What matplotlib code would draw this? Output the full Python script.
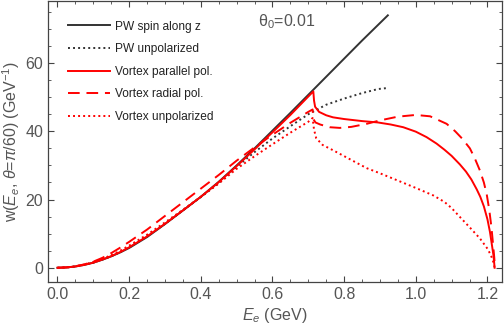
import matplotlib
matplotlib.use("Agg")
import matplotlib.pyplot as plt
from matplotlib.ticker import MultipleLocator

plt.rcParams['font.family'] = ['Liberation Sans', 'DejaVu Sans']
plt.rcParams['mathtext.fontset'] = 'custom'
plt.rcParams['mathtext.rm'] = 'Liberation Sans'
plt.rcParams['mathtext.it'] = 'Liberation Sans:italic'
plt.rcParams['mathtext.bf'] = 'Liberation Sans:bold'

# ---- data ----
pw_spin_E = [0.0, 0.025, 0.05, 0.075, 0.10, 0.125, 0.15, 0.175, 0.20, 0.25, 0.30, 0.35,
             0.40, 0.45, 0.50, 0.55, 0.60, 0.65, 0.70, 0.75, 0.80, 0.85, 0.922]
pw_spin_w = [0.0, 0.1, 0.38, 0.85, 1.5, 2.35, 3.35, 4.5, 5.8, 9.0, 12.8, 16.8,
             20.8, 25.2, 30.0, 35.0, 40.2, 45.4, 50.7, 56.0, 61.3, 66.6, 74.0]

pw_unpol_E = [0.0, 0.025, 0.05, 0.075, 0.10, 0.125, 0.15, 0.175, 0.20, 0.25, 0.30,
              0.35, 0.40, 0.45, 0.50, 0.55, 0.60, 0.65, 0.70, 0.75, 0.80, 0.85,
              0.895, 0.922]
pw_unpol_w = [0.0, 0.1, 0.38, 0.86, 1.5, 2.4, 3.4, 4.6, 6.0, 9.2, 12.9,
              16.8, 20.7, 24.8, 29.6, 33.9, 37.9, 41.5, 45.0, 47.8, 49.6, 51.2,
              52.4, 52.7]

vx_par_E = [0.0, 0.025, 0.05, 0.075, 0.10, 0.125, 0.15, 0.175, 0.20, 0.25, 0.30,
            0.35, 0.40, 0.45, 0.50, 0.55, 0.60, 0.65, 0.70, 0.714, 0.716, 0.719,
            0.73, 0.75, 0.769, 0.80, 0.85, 0.894, 0.93, 0.965, 1.00, 1.03, 1.058,
            1.08, 1.10, 1.123, 1.14, 1.155, 1.17, 1.18, 1.19, 1.20, 1.207, 1.212,
            1.217, 1.22]
vx_par_w = [0.0, 0.1, 0.38, 0.86, 1.5, 2.4, 3.4, 4.6, 6.0, 9.2, 12.9,
            16.8, 20.8, 25.1, 29.8, 34.7, 39.7, 44.8, 50.2, 51.7, 49.0, 47.2,
            45.7, 44.7, 44.1, 43.6, 43.0, 42.6, 42.0, 41.2, 39.9, 38.3, 36.4,
            34.6, 32.8, 30.3, 28.2, 25.9, 23.0, 20.8, 18.0, 14.2, 10.5, 7.0,
            3.5, 0.0]

vx_rad_E = [0.0, 0.025, 0.05, 0.075, 0.10, 0.125, 0.15, 0.175, 0.20, 0.25, 0.30,
            0.35, 0.40, 0.45, 0.50, 0.55, 0.60, 0.65, 0.70, 0.712, 0.714, 0.72,
            0.733, 0.76, 0.788, 0.82, 0.863, 0.90, 0.95, 1.00, 1.04, 1.086, 1.11,
            1.13, 1.151, 1.165, 1.179, 1.19, 1.198, 1.205, 1.211, 1.216, 1.219,
            1.221]
vx_rad_w = [0.0, 0.12, 0.45, 1.0, 1.8, 2.9, 4.3, 5.9, 7.6, 11.2, 15.2,
            19.2, 23.2, 27.2, 31.4, 35.3, 39.0, 42.5, 45.7, 46.4, 43.6, 42.6,
            42.0, 41.2, 41.0, 41.3, 42.2, 43.2, 44.3, 44.8, 44.4, 42.2, 40.0,
            37.8, 35.0, 32.0, 28.5, 25.0, 21.5, 17.0, 12.0, 6.5, 3.0,
            0.0]

vx_unpol_E = [0.0, 0.025, 0.05, 0.075, 0.10, 0.125, 0.15, 0.175, 0.20, 0.25, 0.30,
              0.35, 0.40, 0.45, 0.50, 0.55, 0.60, 0.65, 0.70, 0.712, 0.716, 0.722,
              0.74, 0.77, 0.82, 0.863, 0.90, 0.956, 1.00, 1.049, 1.08, 1.10, 1.123,
              1.15, 1.179, 1.20, 1.21, 1.217, 1.22]
vx_unpol_w = [0.0, 0.11, 0.42, 0.95, 1.65, 2.6, 3.7, 5.0, 6.5, 9.7, 13.3,
              17.0, 20.8, 24.7, 29.0, 32.7, 36.2, 39.6, 42.8, 43.9, 40.5, 38.0,
              36.0, 34.4, 31.6, 29.2, 27.7, 25.3, 23.4, 21.2, 19.3, 17.5, 14.9,
              11.9, 8.6, 5.6, 3.6, 1.5, 0.0]

labels = ["PW spin along z", "PW unpolarized", "Vortex parallel pol.",
          "Vortex radial pol.", "Vortex unpolarized"]
x_ticks = [0.0, 0.2, 0.4, 0.6, 0.8, 1.0, 1.2]
y_ticks = [0, 20, 40, 60]

# ---- figure ----
fig = plt.figure(figsize=(5.04, 3.31), dpi=100)
ax = fig.add_axes([48/504, 1 - 282/331, 454/504, 281/331])

gray_txt = '#555555'
dark = '#333333'
red = '#ff0000'

ax.plot(pw_spin_E, pw_spin_w, color=dark, lw=1.4, label=labels[0])
ax.plot(pw_unpol_E, pw_unpol_w, color=dark, lw=1.4, ls=(0, (1, 1.6)), label=labels[1])
ax.plot(vx_par_E, vx_par_w, color=red, lw=1.4, label=labels[2])
ax.plot(vx_rad_E, vx_rad_w, color=red, lw=1.4, ls=(0, (6, 3.5)), label=labels[3])
ax.plot(vx_unpol_E, vx_unpol_w, color=red, lw=1.4, ls=(0, (1, 1.6)), label=labels[4])

ax.set_xlim(-0.0265, 1.2406)
ax.set_ylim(-4.17, 78.2)
ax.set_xticks(x_ticks)
ax.set_xticklabels([f"{t:.1f}" for t in x_ticks])
ax.set_yticks(y_ticks)
ax.xaxis.set_minor_locator(MultipleLocator(0.05))
ax.yaxis.set_minor_locator(MultipleLocator(5))
ax.tick_params(which='both', direction='in', top=True, right=True,
               color='#444444', labelcolor=gray_txt, labelsize=11.5)
ax.tick_params(which='major', length=4.5, width=0.8)
ax.tick_params(which='minor', length=2.5, width=0.6)
for s in ax.spines.values():
    s.set_color('#444444')
    s.set_linewidth(0.9)

ax.set_xlabel(r'$E_e$ (GeV)', color=gray_txt, fontsize=11.5, labelpad=3)
ax.set_ylabel(r'w($E_e$, $\theta$=$\pi$/60) (GeV$^{-1}$)', color=gray_txt,
              fontsize=11.5, labelpad=2)

ax.text(0.462, 0.925, r'θ$_0$=0.01', transform=ax.transAxes, color=gray_txt,
        fontsize=11.5, ha='left', va='center')

leg = ax.legend(loc='upper left', bbox_to_anchor=(0.044, 0.93), frameon=False,
                fontsize=8.6, handlelength=3.5, handletextpad=0.45,
                labelspacing=0.88, borderpad=0, borderaxespad=0)
for t in leg.get_texts():
    t.set_color('#222222')

fig.savefig('out.png', dpi=100)
